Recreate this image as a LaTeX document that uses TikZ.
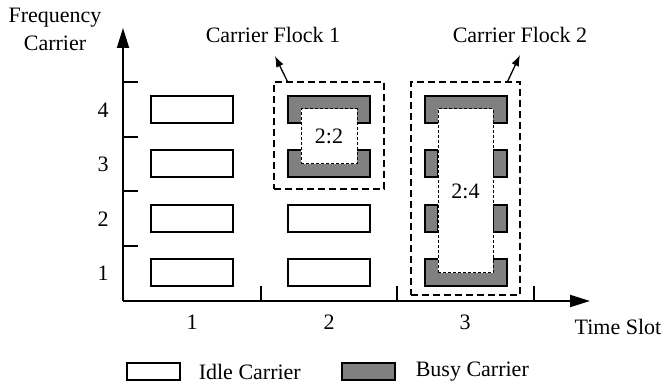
\documentclass[tikz,border=0pt]{standalone}
\usepackage{fontspec}
\setmainfont{Liberation Serif}
\usetikzlibrary{arrows.meta,positioning,calc}
\definecolor{busygray}{RGB}{128,128,128}

\begin{document}
\begin{tikzpicture}[
  x=1pt, y=-1pt,
  txt/.style={font=\fontsize{22}{28}\selectfont, inner sep=0pt},
  idle/.style={draw, line width=1.2pt, fill=white, minimum width=82pt, minimum height=27pt, inner sep=0pt},
  busy/.style={fill=busygray},
  edge/.style={line width=1.2pt},
  flock/.style={draw, line width=1.2pt, dash pattern=on 7pt off 4pt, inner sep=0pt},
  core/.style={draw, fill=white, line width=1pt, dash pattern=on 3pt off 2pt, inner sep=0pt, font=\fontsize{22}{28}\selectfont},
  axis/.style={line width=2pt},
  arr/.style={-{Latex[length=11pt,width=8pt]}, line width=1.3pt}
]
\useasboundingbox (0,0) rectangle (665,385);

% axes
\coordinate (origin) at (123,301);
\coordinate (ytop) at (123,28);
\coordinate (xend) at (590,301);
\draw[axis, -{Triangle[length=20pt,width=12pt]}] (origin) -- (ytop);
\draw[axis, -{Triangle[length=20pt,width=12pt]}] (origin) -- (xend);
\foreach \y in {82,137,191,246} \draw[edge] (123,\y) -- (138,\y);
\foreach \x in {261,397,534} \draw[edge] (\x,301) -- (\x,286);

\node[txt, align=center] (ylabel) at (55,29) {Frequency\\Carrier};
\node[txt] (xlabel) at (618,327) {Time Slot};
\foreach \n/\y in {1/273,2/219,3/164,4/110} \node[txt] (row\n) at (103,\y) {\n};
\foreach \n/\x in {1/192,2/329,3/465} \node[txt] (slot\n) at (\x,322) {\n};

% idle carriers
\foreach \n/\y in {1/272.5,2/218.5,3/163.5,4/109.5} \node[idle] (idleA\n) at (192,\y) {};
\foreach \n/\y in {1/272.5,2/218.5} \node[idle] (idleB\n) at (329,\y) {};

% carrier flock 1
\node[flock, minimum width=110pt, minimum height=107pt] (flockA) at (329,135.5) {};
\fill[busy] (288,96) -- (370,96) -- (370,123) -- (357,123) -- (357,109) -- (301,109) -- (301,123) -- (288,123) -- cycle;
\draw[edge] (301,123) -- (288,123) -- (288,96) -- (370,96) -- (370,123) -- (357,123);
\fill[busy] (288,177) -- (370,177) -- (370,150) -- (357,150) -- (357,164) -- (301,164) -- (301,150) -- (288,150) -- cycle;
\draw[edge] (301,150) -- (288,150) -- (288,177) -- (370,177) -- (370,150) -- (357,150);
\node[core, minimum width=56pt, minimum height=55pt] (coreA) at (329,136.5) {2:2};

% carrier flock 2
\node[flock, minimum width=109pt, minimum height=213pt] (flockB) at (465.5,188.5) {};
\fill[busy] (425,96) -- (507,96) -- (507,123) -- (493,123) -- (493,109) -- (438,109) -- (438,123) -- (425,123) -- cycle;
\draw[edge] (438,123) -- (425,123) -- (425,96) -- (507,96) -- (507,123) -- (493,123);
\fill[busy] (425,286) -- (507,286) -- (507,259) -- (493,259) -- (493,273) -- (438,273) -- (438,259) -- (425,259) -- cycle;
\draw[edge] (438,259) -- (425,259) -- (425,286) -- (507,286) -- (507,259) -- (493,259);
\foreach \y in {150,205} {
  \draw[edge, busy] (425,\y) rectangle (438,\y+27);
  \draw[edge, busy] (493,\y) rectangle (507,\y+27);
}
\node[core, minimum width=55pt, minimum height=164pt] (coreB) at (465.5,191) {2:4};

% flock labels
\node[txt] (labelA) at (273,35) {Carrier Flock 1};
\node[txt] (labelB) at (520,35) {Carrier Flock 2};
\coordinate (tipA) at (275,56);
\coordinate (tipB) at (520,55);
\draw[arr] ($(flockA.north west)+(14,0)$) -- (tipA);
\draw[arr] ($(flockB.north east)+(-13,0)$) -- (tipB);

% legend
\node[idle, minimum width=53pt, minimum height=17pt] (legIdle) at (153.5,371.5) {};
\node[txt, right=18pt of legIdle] (legIdleText) {Idle Carrier};
\node[idle, fill=busygray, minimum width=53pt, minimum height=17pt] (legBusy) at (368.5,371.5) {};
\node[txt, right=20pt of legBusy] (legBusyText) {Busy Carrier};
\end{tikzpicture}
\end{document}
